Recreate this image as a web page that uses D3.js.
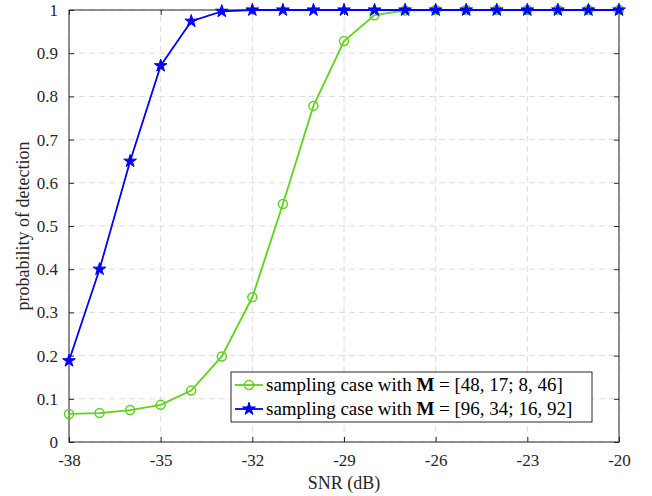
<!DOCTYPE html>
<html>
<head>
<meta charset="utf-8">
<script src="https://cdn.jsdelivr.net/npm/d3@7"></script>
</head>
<body style="margin:0;background:#fff">
<script>
const snr = [-38, -37, -36, -35, -34, -33, -32, -31, -30, -29, -28, -27, -26, -25, -24, -23, -22, -21, -20];
const pdSmall = [0.065, 0.067, 0.074, 0.086, 0.119, 0.198, 0.335, 0.551, 0.778, 0.928, 0.988, 0.999, 1, 1, 1, 1, 1, 1, 1];
const pdLarge = [0.188, 0.400, 0.650, 0.871, 0.974, 0.997, 1, 1, 1, 1, 1, 1, 1, 1, 1, 1, 1, 1, 1];
const xTicks = [-38, -35, -32, -29, -26, -23, -20];
const yTicks = [0, 0.1, 0.2, 0.3, 0.4, 0.5, 0.6, 0.7, 0.8, 0.9, 1];

const width = 652, height = 496;
const margin = { left: 69, right: 33, top: 10, bottom: 54 };
const serif = '"Liberation Serif"';
const axisColor = '#262626';

const svg = d3.select('body').append('svg')
  .attr('width', width)
  .attr('height', height);

const x = d3.scaleLinear().domain([-38, -20]).range([margin.left, width - margin.right]);
const y = d3.scaleLinear().domain([0, 1]).range([height - margin.bottom, margin.top]);

// grid
svg.append('g').selectAll('line').data(xTicks).enter().append('line')
  .attr('x1', d => x(d)).attr('x2', d => x(d))
  .attr('y1', y(0)).attr('y2', y(1))
  .attr('stroke', '#dcdcdc').attr('stroke-dasharray', '6,4');
svg.append('g').selectAll('line').data(yTicks).enter().append('line')
  .attr('x1', x(-38)).attr('x2', x(-20))
  .attr('y1', d => y(d)).attr('y2', d => y(d))
  .attr('stroke', '#dcdcdc').attr('stroke-dasharray', '6,4');

// ticks on all four sides, pointing inward
const fmtY = d => d === 0 || d === 1 ? String(d) : d3.format('.1f')(d);
const axes = [
  [d3.axisBottom(x).tickValues(xTicks).tickSize(-5).tickPadding(12).tickFormat(d => String(d)), `translate(0,${y(0)})`],
  [d3.axisTop(x).tickValues(xTicks).tickSize(-5).tickFormat(''), `translate(0,${y(1)})`],
  [d3.axisLeft(y).tickValues(yTicks).tickSize(-5).tickPadding(11).tickFormat(fmtY), `translate(${x(-38)},0)`],
  [d3.axisRight(y).tickValues(yTicks).tickSize(-5).tickFormat(''), `translate(${x(-20)},0)`]
];
axes.forEach(([ax, tr]) => {
  const g = svg.append('g').attr('transform', tr).call(ax);
  g.select('.domain').remove();
  g.attr('font-family', null).attr('font-size', null);
  g.selectAll('.tick line').attr('stroke', axisColor);
  g.selectAll('.tick text')
    .attr('fill', axisColor)
    .attr('font-family', serif)
    .attr('font-size', 17);
});

svg.append('rect')
  .attr('x', x(-38)).attr('y', y(1))
  .attr('width', x(-20) - x(-38)).attr('height', y(0) - y(1))
  .attr('fill', 'none').attr('stroke', axisColor).attr('stroke-width', 1);

// axis labels
svg.append('text')
  .attr('x', (x(-38) + x(-20)) / 2).attr('y', 489)
  .attr('text-anchor', 'middle')
  .attr('font-family', serif).attr('font-size', 18).attr('fill', axisColor)
  .text('SNR (dB)');
svg.append('text')
  .attr('transform', `translate(29,${(y(0) + y(1)) / 2}) rotate(-90)`)
  .attr('text-anchor', 'middle')
  .attr('font-family', serif).attr('font-size', 18).attr('fill', axisColor)
  .text('probability of detection');

const green = '#5fd31c';
const blue = '#0000ff';
const star = d3.symbol().type(d3.symbolStar).size(50);

const line = d3.line().x(d => x(d[0])).y(d => y(d[1]));
const smallPts = snr.map((s, i) => [s, pdSmall[i]]);
const largePts = snr.map((s, i) => [s, pdLarge[i]]);

svg.append('path').datum(smallPts).attr('d', line)
  .attr('fill', 'none').attr('stroke', green).attr('stroke-width', 1.8);
svg.append('g').selectAll('circle').data(smallPts).enter().append('circle')
  .attr('cx', d => x(d[0])).attr('cy', d => y(d[1])).attr('r', 4.5)
  .attr('fill', 'none').attr('stroke', green).attr('stroke-width', 1.5);

svg.append('path').datum(largePts).attr('d', line)
  .attr('fill', 'none').attr('stroke', blue).attr('stroke-width', 1.8);
svg.append('g').selectAll('path').data(largePts).enter().append('path')
  .attr('d', star)
  .attr('transform', d => `translate(${x(d[0])},${y(d[1])})`)
  .attr('fill', blue).attr('stroke', blue).attr('stroke-width', 1);

// legend
const lg = svg.append('g').attr('transform', 'translate(231,372)');
lg.append('rect').attr('width', 361).attr('height', 50)
  .attr('fill', '#fff').attr('stroke', axisColor).attr('stroke-width', 1);

const legendItems = [
  { color: green, marker: 'circle', mat: '[48, 17; 8, 46]' },
  { color: blue, marker: 'star', mat: '[96, 34; 16, 92]' }
];
legendItems.forEach((d, i) => {
  const row = lg.append('g').attr('transform', `translate(0,${13 + i * 24})`);
  row.append('line').attr('x1', 4).attr('x2', 32).attr('y1', 0).attr('y2', 0)
    .attr('stroke', d.color).attr('stroke-width', 1.8);
  if (d.marker === 'circle') {
    row.append('circle').attr('cx', 18).attr('cy', 0).attr('r', 4.5)
      .attr('fill', 'none').attr('stroke', d.color).attr('stroke-width', 1.5);
  } else {
    row.append('path').attr('d', star).attr('transform', 'translate(18,0)')
      .attr('fill', d.color).attr('stroke', d.color);
  }
  const t = row.append('text').attr('x', 35).attr('y', 6)
    .attr('font-family', serif).attr('font-size', 19).attr('fill', '#000');
  t.append('tspan').text('sampling case with ');
  t.append('tspan').attr('font-weight', 'bold').text('M');
  t.append('tspan').text(' = ' + d.mat);
});
</script>
</body>
</html>
